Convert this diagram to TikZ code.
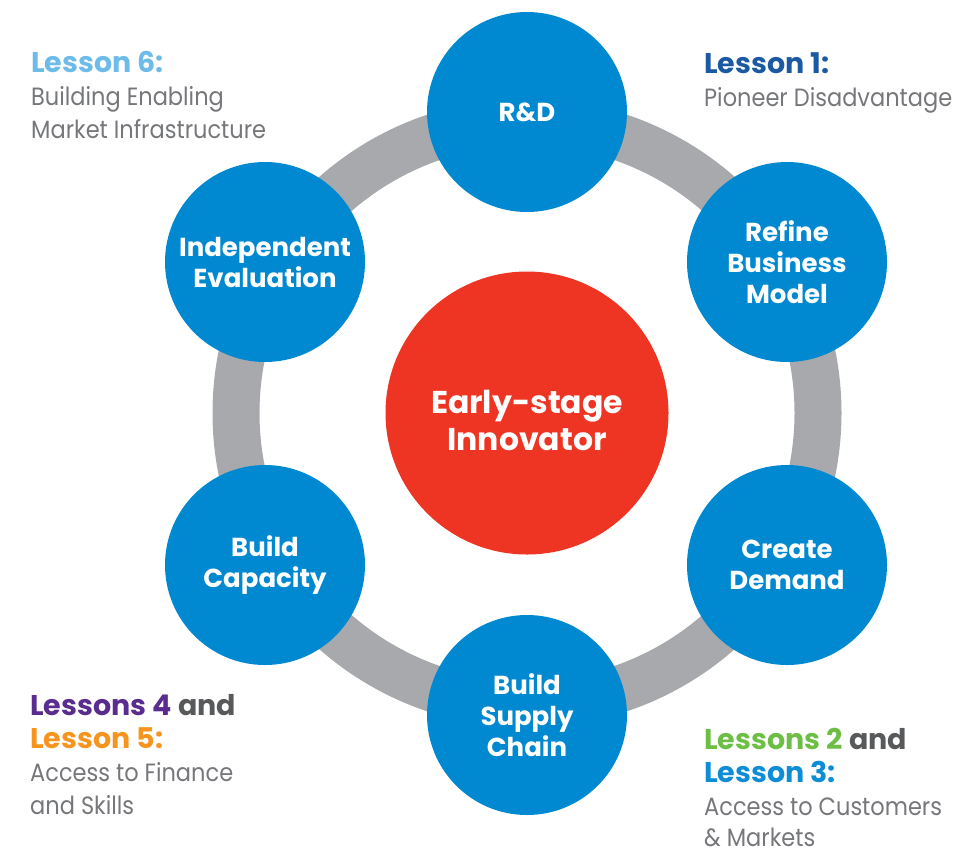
\documentclass[tikz,border=0pt]{standalone}
\usepackage{fontspec}
\setmainfont{Poppins}
\newfontfamily\bodyfont[FakeStretch=0.9]{Poppins}
\definecolor{ringgray}{HTML}{A7A9AC}
\definecolor{stageblue}{HTML}{0089D0}
\definecolor{hubred}{HTML}{EE3524}
\definecolor{lessonsix}{HTML}{6DBBE9}
\definecolor{lessonone}{HTML}{1B5AA3}
\definecolor{lessonfour}{HTML}{5B2C8F}
\definecolor{lessonfive}{HTML}{F7941D}
\definecolor{lessontwo}{HTML}{6DBE45}
\definecolor{lessonthree}{HTML}{0C8DD6}
\definecolor{andgray}{HTML}{58595B}
\definecolor{bodygray}{HTML}{76777A}
\newcommand{\lessonhead}[2]{\textcolor{#1}{\bfseries\fontsize{28.5}{33}\selectfont #2}}
\newcommand{\lessonbody}[1]{\textcolor{bodygray}{\bodyfont #1}}
\tikzset{
  bubble/.style={circle,fill=stageblue,minimum size=200pt,inner sep=0pt,text=white,align=center,
    font=\bfseries\fontsize{26}{31}\selectfont},
  hub/.style={circle,fill=hubred,minimum size=283pt,inner sep=0pt,text=white,align=center,
    font=\bfseries\fontsize{31.5}{37}\selectfont},
  lesson/.style={anchor=north west,inner sep=0pt,align=left,font=\fontsize{25}{33}\selectfont},
}
\begin{document}
\begin{tikzpicture}[x=1pt,y=-1pt]
 \useasboundingbox (0,0) rectangle (979,855);
 % the ring
 \draw[ringgray,line width=47pt] (527,413) circle (291pt);
 % hub and stages
 \node[hub] (innovator) at (527,413) {\rule{0pt}{38pt}Early-stage\\Innovator};
 \node[bubble] (rd) at (527,112) {R\&D};
 \node[bubble] (refine) at (787,262) {Refine\\Business\\Model};
 \node[bubble] (demand) at (787,565) {Create\\Demand};
 \node[bubble] (supply) at (527,715) {Build\\Supply\\Chain};
 \node[bubble] (capacity) at (265,565) {Build\\Capacity};
 \node[bubble] (evaluation) at (265,262) {Independent\\Evaluation};
 % lessons
 \node[lesson] (lessonsix) at (31,51)
  {\lessonhead{lessonsix}{Lesson 6:}\\ \lessonbody{Building Enabling}\\ \lessonbody{Market Infrastructure}};
 \node[lesson] (lessonone) at (704,52)
  {\lessonhead{lessonone}{Lesson 1:}\\ \lessonbody{Pioneer Disadvantage}};
 \node[lesson] (lessonfour) at (30,694)
  {\lessonhead{lessonfour}{Lessons 4} \lessonhead{andgray}{and}\\ \lessonhead{lessonfive}{Lesson 5:}\\
   \lessonbody{Access to Finance}\\ \lessonbody{and Skills}};
 \node[lesson] (lessontwo) at (704,728)
  {\lessonhead{lessontwo}{Lessons 2} \lessonhead{andgray}{and}\\ \lessonhead{lessonthree}{Lesson 3:}\\
   \lessonbody{Access to Customers}\\[-1.5pt] \lessonbody{\& Markets}};
\end{tikzpicture}
\end{document}
